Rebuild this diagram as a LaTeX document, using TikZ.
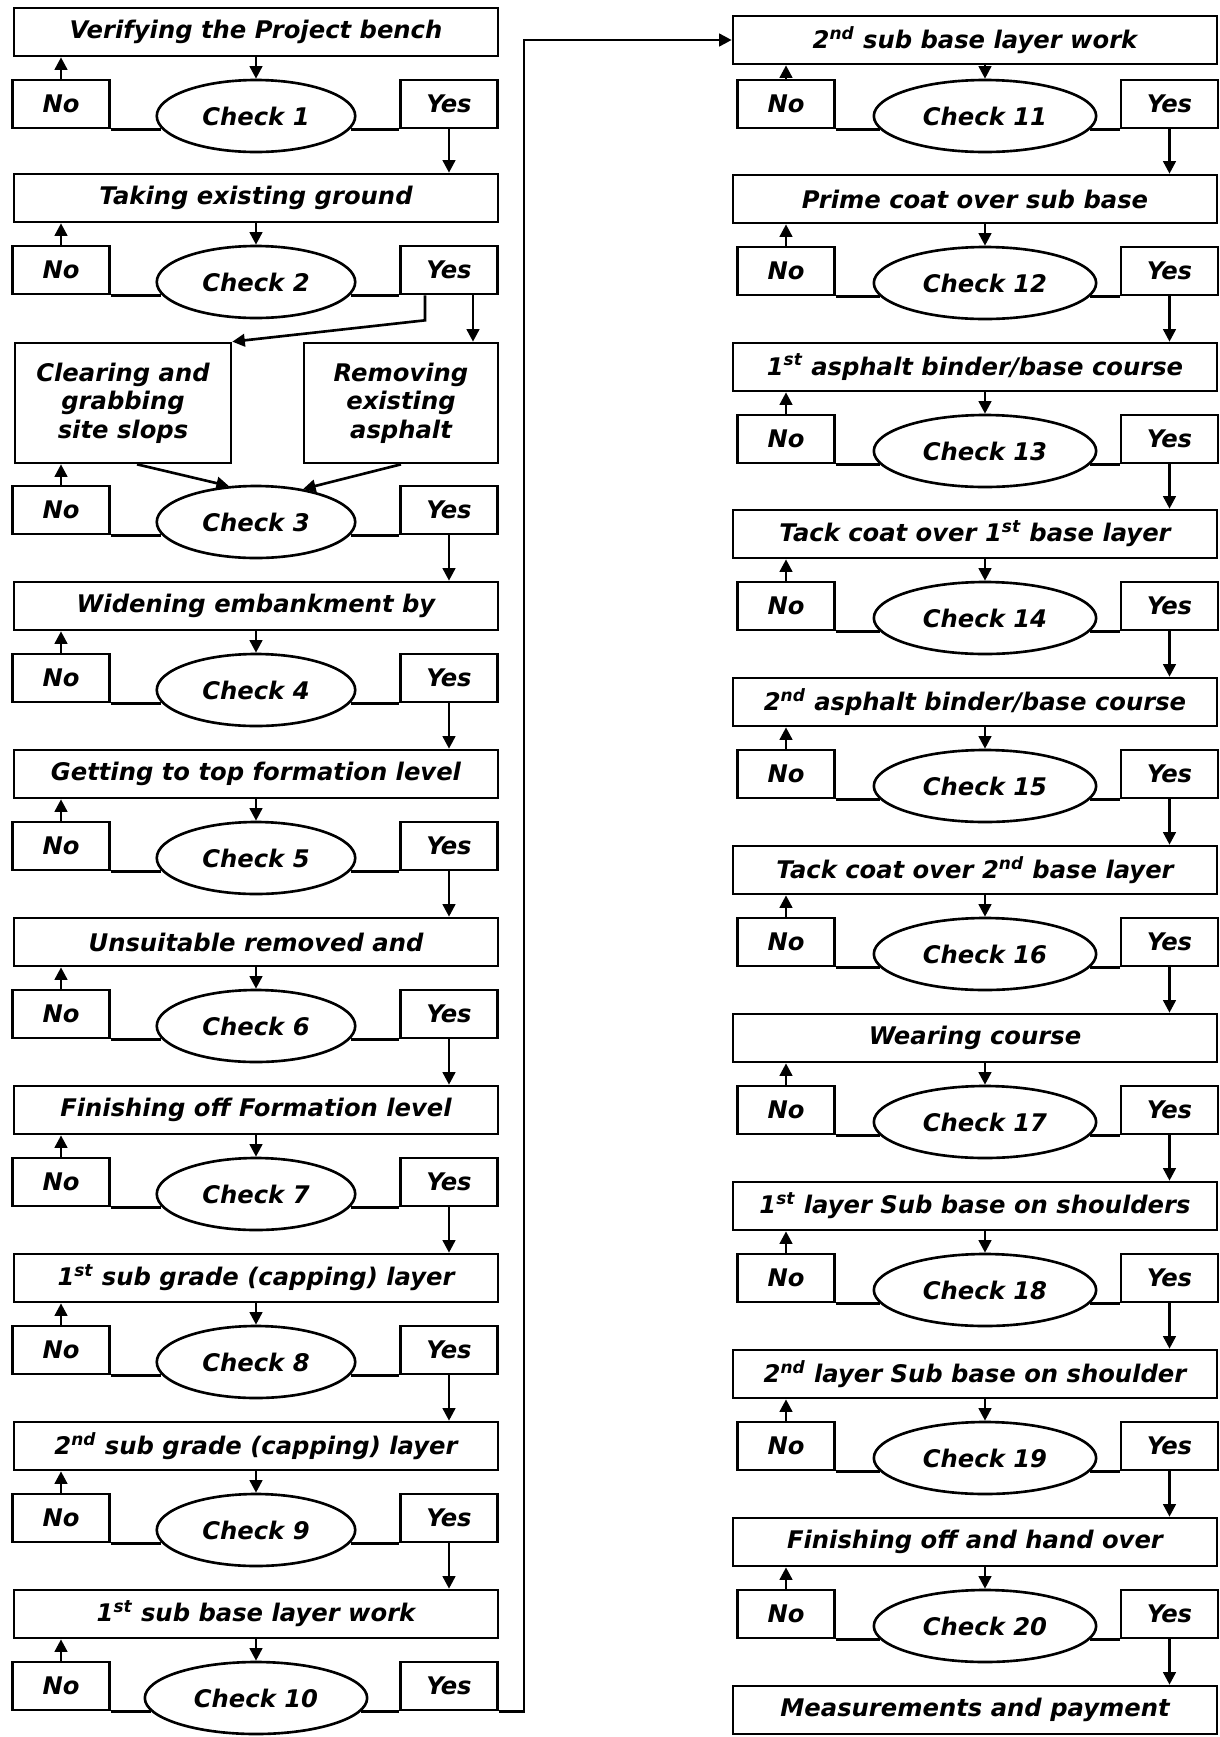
\documentclass[tikz,border=0pt]{standalone}
\usepackage{fontspec}
\setmainfont{DejaVu Sans}
\usepackage{tikz}
\usetikzlibrary{arrows.meta,positioning,calc,shapes.geometric}
% one row of a check: No box, Check ellipse, Yes box and the two side lines
\newcommand{\checkrow}[5]{%
  \node[check] (c#1) at (#3,#5) {Check #1};
  \node[answer] (n#1) at (#2,#5+0.24) {No};
  \node[answer] (y#1) at (#4,#5+0.24) {Yes};
  \draw[link] (n#1.south east) -- (n#1.south east -| c#1.187);
  \draw[link] (c#1.353 |- y#1.south west) -- (y#1.south west);}
\newcommand{\lrow}[2]{\checkrow{#1}{1.22}{5.12}{8.98}{#2}}
\newcommand{\rrow}[2]{\checkrow{#1}{15.72}{19.7}{23.39}{#2}}

\begin{document}
\begin{tikzpicture}[font=\fontsize{13.8}{16.2}\selectfont\bfseries\itshape,
  task/.style={draw, line width=1.5pt, minimum width=9.68cm, minimum height=0.96cm, inner sep=0pt},
  answer/.style={draw, line width=1.5pt, minimum width=1.94cm, minimum height=0.96cm, inner sep=0pt},
  check/.style={draw, ellipse, line width=1.5pt, minimum height=1.44cm, inner xsep=0.33cm, inner ysep=0pt},
  link/.style={line width=1.5pt},
  arr/.style={-{Triangle[length=2.5mm, width=2.5mm]}, line width=1.5pt}]
  \useasboundingbox (0,0) rectangle (24.38,-34.74);
  % left column
  \node[task] (t1) at (5.12,-0.64) {Verifying the Project bench};
  \lrow{1}{-2.32}
  \node[task] (t2) at (5.12,-3.96) {Taking existing ground};
  \lrow{2}{-5.64}
  \node[task, minimum width=4.32cm, minimum height=2.4cm, align=center] (clr) at (2.46,-8.06) {Clearing and\\grabbing\\site slops};
  \node[task, minimum width=3.88cm, minimum height=2.4cm, align=center] (rem) at (8.02,-8.06) {Removing\\existing\\asphalt};
  \lrow{3}{-10.44}
  \node[task] (t4) at (5.12,-12.12) {Widening embankment by};
  \lrow{4}{-13.8}
  \node[task] (t5) at (5.12,-15.48) {Getting to top formation level};
  \lrow{5}{-17.16}
  \node[task] (t6) at (5.12,-18.84) {Unsuitable removed and};
  \lrow{6}{-20.52}
  \node[task] (t7) at (5.12,-22.2) {Finishing off Formation level};
  \lrow{7}{-23.88}
  \node[task] (t8) at (5.12,-25.56) {1\textsuperscript{st} sub grade (capping) layer};
  \lrow{8}{-27.24}
  \node[task] (t9) at (5.12,-28.92) {2\textsuperscript{nd} sub grade (capping) layer};
  \lrow{9}{-30.6}
  \node[task] (t10) at (5.12,-32.28) {1\textsuperscript{st} sub base layer work};
  \lrow{10}{-33.96}
  % right column
  \node[task] (t11) at (19.5,-0.8) {2\textsuperscript{nd} sub base layer work};
  \rrow{11}{-2.32}
  \node[task] (t12) at (19.5,-3.98) {Prime coat over sub base};
  \rrow{12}{-5.66}
  \node[task] (t13) at (19.5,-7.34) {1\textsuperscript{st} asphalt binder/base course};
  \rrow{13}{-9.02}
  \node[task] (t14) at (19.5,-10.68) {Tack coat over 1\textsuperscript{st} base layer};
  \rrow{14}{-12.36}
  \node[task] (t15) at (19.5,-14.04) {2\textsuperscript{nd} asphalt binder/base course};
  \rrow{15}{-15.72}
  \node[task] (t16) at (19.5,-17.4) {Tack coat over 2\textsuperscript{nd} base layer};
  \rrow{16}{-19.08}
  \node[task] (t17) at (19.5,-20.76) {Wearing course};
  \rrow{17}{-22.44}
  \node[task] (t18) at (19.5,-24.12) {1\textsuperscript{st} layer Sub base on shoulders};
  \rrow{18}{-25.8}
  \node[task] (t19) at (19.5,-27.48) {2\textsuperscript{nd} layer Sub base on shoulder};
  \rrow{19}{-29.16}
  \node[task] (t20) at (19.5,-30.84) {Finishing off and hand over};
  \rrow{20}{-32.52}
  \node[task] (t21) at (19.5,-34.2) {Measurements and payment};
  % arrows
  \foreach \i in {1,2,4,5,6,7,8,9,10,11,12,13,14,15,16,17,18,19,20} {
    \draw[arr] (c\i.north |- t\i.south) -- (c\i.north);
    \draw[arr] (n\i.north) -- (n\i.north |- t\i.south);
  }
  \foreach \a/\b in {1/2,3/4,4/5,5/6,6/7,7/8,8/9,9/10,11/12,12/13,13/14,14/15,15/16,16/17,17/18,18/19,19/20,20/21}
    \draw[arr] (y\a.south) -- (y\a.south |- t\b.north);
  \draw[arr] (n3.north) -- (n3.north |- clr.south);
  \draw[arr] ([xshift=-0.48cm]y2.south) -- ++(0,-0.5) -- (clr.north east);
  \draw[arr] ([xshift=0.48cm]y2.south) -- ([xshift=0.48cm]y2.south |- rem.north);
  \draw[arr] ([xshift=0.28cm]clr.south) -- (c3.127);
  \draw[arr] (rem.south) -- (c3.35);
  \draw[arr] (y10.south east) -- ++(0.5,0) |- (t11.west);
\end{tikzpicture}
\end{document}
